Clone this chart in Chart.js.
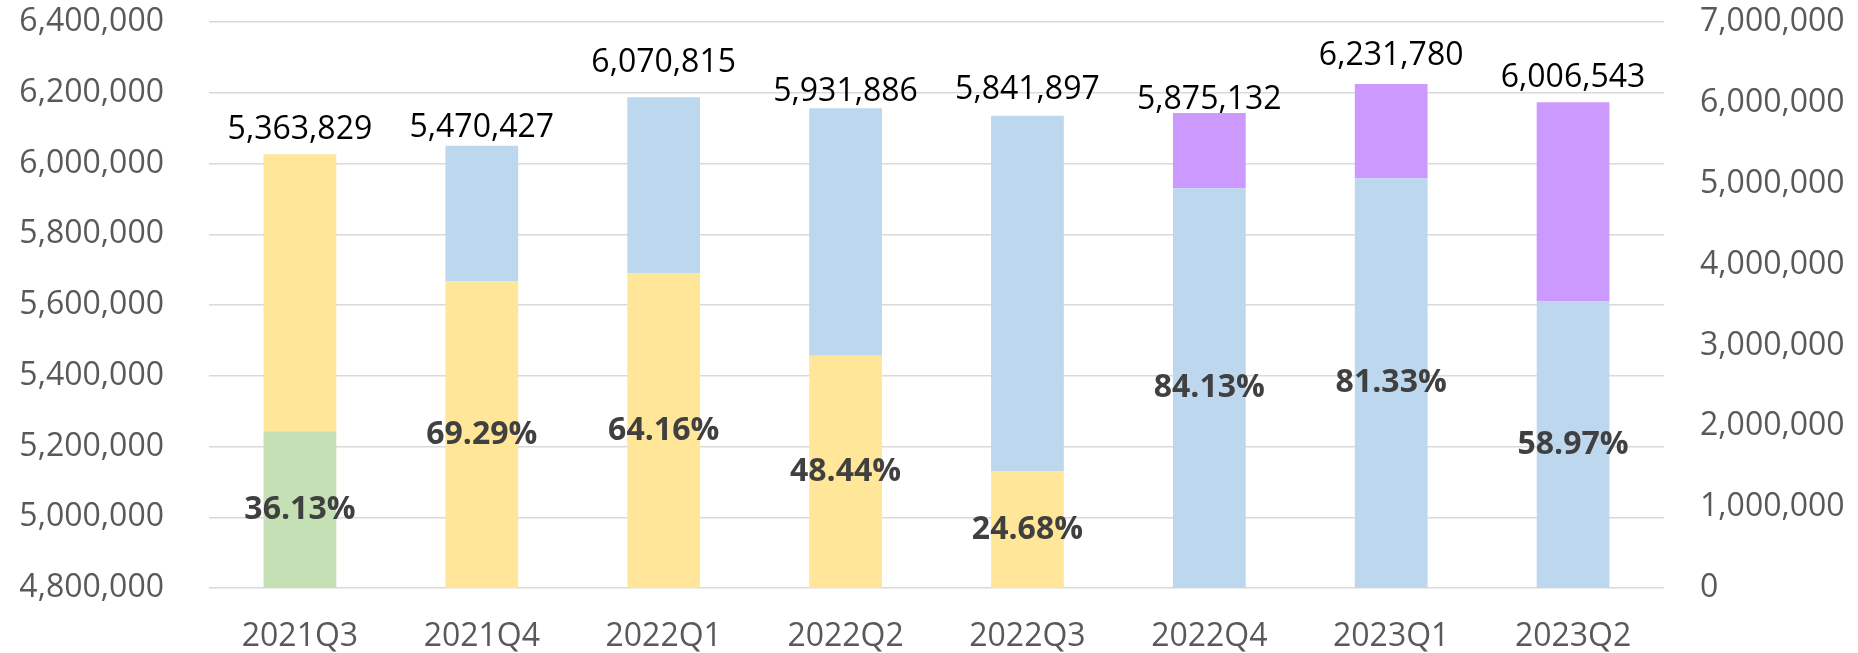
<!DOCTYPE html>
<html>
<head>
<meta charset="utf-8">
<script src="https://cdn.jsdelivr.net/npm/chart.js@4"></script>
<style>
  html, body { margin: 0; padding: 0; background: #fff; }
  #wrap { width: 1858px; height: 653px; }
</style>
</head>
<body>
<div id="wrap"><canvas id="chart" width="1858" height="653"></canvas></div>
<script>
// quarters on the x axis
const quarters = ["2021Q3", "2021Q4", "2022Q1", "2022Q2", "2022Q3", "2022Q4", "2023Q1", "2023Q2"];

// stacked segments (right axis)
const greenPart  = [1938000, 0, 0, 0, 0, 0, 0, 0];
const yellowPart = [3425829, 3790400, 3895000, 2873400, 1441800, 0, 0, 0];
const bluePart   = [0, 1680027, 2175815, 3058486, 4400097, 4942700, 5068200, 3542000];
const purplePart = [0, 0, 0, 0, 0, 932432, 1163580, 2464543];

// totals shown above bars, and where they sit on the left axis
const totals = [5363829, 5470427, 6070815, 5931886, 5841897, 5875132, 6231780, 6006543];
const totalLevel = [6095000, 6100000, 6283000, 6203000, 6208000, 6181000, 6304000, 6242000];

// share of the bottom segment
const shares = ["36.13%", "69.29%", "64.16%", "48.44%", "24.68%", "84.13%", "81.33%", "58.97%"];

// axis ranges
const leftMin = 4800000, leftMax = 6400000, leftStep = 200000;
const rightMin = 0, rightMax = 7000000, rightStep = 1000000;

const FONT = "'Open Sans', sans-serif";
const fmt = (v) => Number(v).toLocaleString("en-US");

const labelPlugin = {
  id: "barLabels",
  afterDatasetsDraw(chart) {
    const ctx = chart.ctx;
    const yL = chart.scales.yL;
    const metas = chart.data.datasets.map((d, i) => chart.getDatasetMeta(i));
    ctx.save();
    ctx.textAlign = "center";
    ctx.textBaseline = "middle";
    quarters.forEach((q, i) => {
      // percent label on the first non-empty segment
      const first = metas.find((m, di) => chart.data.datasets[di].data[i] > 0);
      if (first) {
        const bar = first.data[i];
        ctx.font = "bold 32px " + FONT;
        ctx.fillStyle = "#404040";
        ctx.fillText(shares[i], bar.x, (bar.y + bar.base) / 2);
      }
      // total label
      const x = metas[0].data[i].x;
      ctx.font = "32px " + FONT;
      ctx.fillStyle = "#000000";
      ctx.fillText(fmt(totals[i]), x, yL.getPixelForValue(totalLevel[i]));
    });
    ctx.restore();
  },
};

const barCommon = { yAxisID: "yR", barPercentage: 0.4, categoryPercentage: 1, borderWidth: 0 };

new Chart(document.getElementById("chart"), {
  type: "bar",
  data: {
    labels: quarters,
    datasets: [
      { ...barCommon, label: "green", data: greenPart, backgroundColor: "#C5E0B4" },
      { ...barCommon, label: "yellow", data: yellowPart, backgroundColor: "#FFE699" },
      { ...barCommon, label: "blue", data: bluePart, backgroundColor: "#BDD7EE" },
      { ...barCommon, label: "purple", data: purplePart, backgroundColor: "#CC99FF" },
    ],
  },
  options: {
    responsive: false,
    animation: false,
    layout: { padding: { top: 22, left: 0, right: 0, bottom: 0 } },
    plugins: { legend: { display: false }, tooltip: { enabled: false } },
    scales: {
      x: {
        stacked: true,
        grid: { display: false, drawTicks: false },
        border: { display: false },
        ticks: { padding: 30, color: "#595959", font: { family: FONT, size: 32 } },
        afterFit(s) { s.height = 65; },
      },
      yL: {
        position: "left",
        min: leftMin,
        max: leftMax,
        grid: { color: "#D9D9D9", lineWidth: 1.5, drawTicks: false },
        border: { display: false },
        ticks: {
          stepSize: leftStep,
          padding: 45,
          color: "#595959",
          font: { family: FONT, size: 32 },
          callback: (v) => fmt(v),
        },
        // keep the tick padding from pushing the plot area down
        afterFit(s) { s.width = 209; s.paddingTop = 0; s.paddingBottom = 0; },
      },
      yR: {
        position: "right",
        stacked: true,
        min: rightMin,
        max: rightMax,
        grid: { display: false, drawTicks: false },
        border: { display: false },
        ticks: {
          stepSize: rightStep,
          padding: 36,
          color: "#595959",
          font: { family: FONT, size: 32 },
          callback: (v) => fmt(v),
        },
        afterFit(s) { s.width = 194; s.paddingTop = 0; s.paddingBottom = 0; },
      },
    },
  },
  plugins: [labelPlugin],
});
</script>
</body>
</html>
